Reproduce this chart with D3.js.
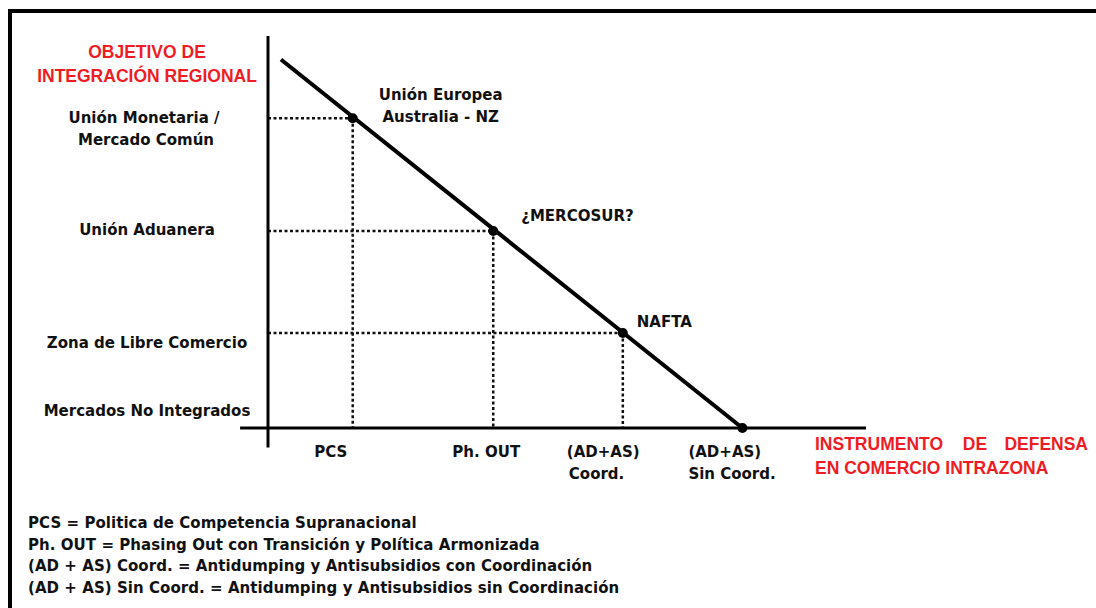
<!DOCTYPE html>
<meta charset="utf-8">
<script src="https://d3js.org/d3.v7.min.js"></script>
<style>
  body { margin: 0; background: #fff; }
  text { font-family: "DejaVu Sans", sans-serif; font-weight: bold; }
  .red { font-family: "Liberation Sans", Arial, sans-serif; }
</style>
<div id="chart"></div>
<script>
// Levels of regional integration (y) and trade-defence instruments (x)
const levels = ["Mercados No Integrados", "Zona de Libre Comercio", "Unión Aduanera", "Unión Monetaria / Mercado Común"];
const levelValues = [0, 0.97, 2.01, 3.16];
const instruments = ["PCS", "Ph. OUT", "(AD+AS) Coord.", "(AD+AS) Sin Coord."];
const instrumentValues = [0.85, 2.26, 3.56, 4.76];
const blocs = ["Unión Europea|Australia - NZ", "¿MERCOSUR?", "NAFTA"];
const lineStart = [0.13, 3.76];
const notes = [
  "PCS = Politica de Competencia Supranacional",
  "Ph. OUT = Phasing Out con Transición y Política Armonizada",
  "(AD + AS) Coord. = Antidumping y Antisubsidios con Coordinación",
  "(AD + AS) Sin Coord. = Antidumping y Antisubsidios sin Coordinación"
];

const W = 1096, H = 608;
const svg = d3.select("#chart").append("svg")
  .attr("width", W).attr("height", H);

const x = d3.scaleLinear().domain([0, 6]).range([268, 866]);
const y = d3.scaleLinear().domain([0, 4]).range([428, 36]);

// frame (top + left only, like the scan)
svg.append("path")
  .attr("d", `M10,${H} L10,11 L${W},11`)
  .attr("fill", "none").attr("stroke", "#000").attr("stroke-width", 4);

// points along the line: highest level pairs with first instrument
const pts = instrumentValues.map((v, i) => ({x: v, y: levelValues[levelValues.length - 1 - i]}));

// dotted guides
const guides = svg.append("g")
  .attr("stroke", "#111").attr("stroke-width", 2.5).attr("stroke-dasharray", "3,2.5");
pts.slice(0, 3).forEach(p => {
  guides.append("line").attr("x1", x(0)).attr("x2", x(p.x)).attr("y1", y(p.y)).attr("y2", y(p.y));
  guides.append("line").attr("x1", x(p.x)).attr("x2", x(p.x)).attr("y1", y(p.y)).attr("y2", y(0));
});

// axes
svg.append("line").attr("x1", x(0)).attr("x2", x(0)).attr("y1", y(4)).attr("y2", y(-0.2))
  .attr("stroke", "#000").attr("stroke-width", 3);
svg.append("line").attr("x1", x(-0.28)).attr("x2", x(6)).attr("y1", y(0)).attr("y2", y(0))
  .attr("stroke", "#000").attr("stroke-width", 3);

// main line
svg.append("line")
  .attr("x1", x(lineStart[0])).attr("y1", y(lineStart[1]))
  .attr("x2", x(instrumentValues[3])).attr("y2", y(0))
  .attr("stroke", "#000").attr("stroke-width", 4);

svg.append("g").selectAll("circle").data(pts).join("circle")
  .attr("cx", d => x(d.x)).attr("cy", d => y(d.y)).attr("r", 5).attr("fill", "#000");

// y level labels
const levelDy = [-17, 10, -1, 0];
const yl = svg.append("g").attr("font-size", 15).attr("fill", "#111").attr("text-anchor", "middle");
levels.forEach((l, i) => {
  const lines = l.split(" / ");
  const t = yl.append("text").attr("x", 147)
    .attr("y", y(levelValues[i]) + levelDy[i] + 5);
  if (lines.length > 1) {
    t.append("tspan").attr("x", 144).attr("dy", 0).text(lines[0] + " /");
    t.append("tspan").attr("x", 146).attr("dy", 22).text(lines[1]);
  } else {
    t.text(l);
  }
});

// y title
svg.append("text").attr("class", "red").attr("x", 147).attr("y", 58).attr("text-anchor", "middle")
  .attr("font-size", 17.5).attr("fill", "#ee1c25").text("OBJETIVO DE");
svg.append("text").attr("class", "red").attr("x", 147).attr("y", 82).attr("text-anchor", "middle")
  .attr("font-size", 17.5).attr("fill", "#ee1c25").text("INTEGRACIÓN REGIONAL");

// x instrument labels
const xl = svg.append("g").attr("font-size", 15).attr("fill", "#111");
xl.append("text").attr("x", x(instrumentValues[0]) - 22).attr("y", 457).attr("text-anchor", "middle").text(instruments[0]);
xl.append("text").attr("x", x(instrumentValues[1]) - 7).attr("y", 457).attr("text-anchor", "middle").text(instruments[1]);
[2, 3].forEach(i => {
  const parts = instruments[i].split(" ");
  const t = xl.append("text").attr("x", x(instrumentValues[i]) - 56 + (i === 3 ? 2 : 0)).attr("y", 457);
  t.append("tspan").text(parts[0]);
  t.append("tspan").attr("x", x(instrumentValues[i]) - 54).attr("dy", 22).text(parts.slice(1).join(" "));
});

// x title
const xt = svg.append("g").attr("class", "red").attr("font-size", 17.5).attr("fill", "#ee1c25");
xt.append("text").attr("class", "red").attr("x", 815).attr("y", 450).text("INSTRUMENTO");
xt.append("text").attr("class", "red").attr("x", 975).attr("y", 450).attr("text-anchor", "middle").text("DE");
xt.append("text").attr("class", "red").attr("x", 1088).attr("y", 450).attr("text-anchor", "end").text("DEFENSA");
xt.append("text").attr("class", "red").attr("x", 815).attr("y", 474).text("EN COMERCIO INTRAZONA");

// bloc labels
const bl = svg.append("g").attr("font-size", 15).attr("fill", "#111");
const eu = blocs[0].split("|");
bl.append("text").attr("x", x(pts[0].x) + 88).attr("y", y(pts[0].y) - 18).attr("text-anchor", "middle").text(eu[0]);
bl.append("text").attr("x", x(pts[0].x) + 88).attr("y", y(pts[0].y) + 4).attr("text-anchor", "middle").text(eu[1]);
bl.append("text").attr("x", x(pts[1].x) + 28).attr("y", y(pts[1].y) - 10).text(blocs[1]);
bl.append("text").attr("x", x(pts[2].x) + 14).attr("y", y(pts[2].y) - 6).text(blocs[2]);

// footnotes
svg.append("g").attr("font-size", 15).attr("fill", "#111").attr("letter-spacing", 0.05)
  .selectAll("text").data(notes).join("text")
  .attr("x", 28).attr("y", (d, i) => 528 + i * 21.5).text(d => d);
</script>
